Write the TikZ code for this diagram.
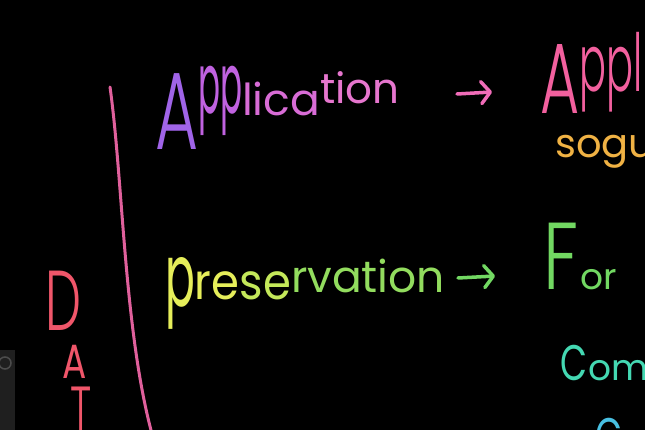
\documentclass[tikz,border=0pt]{standalone}
\usepackage{fontspec}
\setmainfont{Poppins}
\newfontfamily\thinpen{Poppins}[UprightFont=* Light]
\usetikzlibrary{arrows.meta}

\definecolor{inkpurple}{HTML}{A064E8}
\definecolor{inkviolet}{HTML}{C062E0}
\definecolor{inkmagenta}{HTML}{D86CD6}
\definecolor{inkpink}{HTML}{E676CE}
\definecolor{inkrose}{HTML}{F2609E}
\definecolor{inkarrow}{HTML}{F06CB8}
\definecolor{inkorange}{HTML}{F0B244}
\definecolor{inkyellow}{HTML}{E6EE5A}
\definecolor{inklime}{HTML}{C4E85A}
\definecolor{inkgreen}{HTML}{92DC5E}
\definecolor{inkleaf}{HTML}{72D862}
\definecolor{inkteal}{HTML}{44D8B2}
\definecolor{inkcyan}{HTML}{48C0E2}
\definecolor{inkcoral}{HTML}{F0566A}
\definecolor{inkline}{HTML}{E0609C}

\newcommand{\fsz}[1]{\fontsize{#1}{#1}\selectfont}
\newcommand{\sx}[2]{\scalebox{#1}[1]{#2}}

\tikzset{
  ink/.style={inner sep=0pt, anchor=base west},
  pen/.style={line width=3pt, line cap=round, line join=round},
  penarrow/.style={pen, line width=3.5pt, -{Straight Barb[length=9pt,width=22pt,line width=3.5pt,round]}},
}

\begin{document}
\begin{tikzpicture}[x=1pt,y=-1pt]
\fill[black] (0,0) rectangle (645,430);
\clip (0,0) rectangle (645,430);

% left margin
\draw[pen, inkline] (110,87) .. controls (123,180) and (124,330) .. (152,434);
\node[ink, text=inkcoral] (letterd) at (45,330) {\thinpen\sx{0.6}{\fsz{85}D}};
\node[ink, text=inkcoral] (lettera) at (62,378) {\sx{0.75}{\fsz{48}A}};
\node[ink, text=inkcoral] (lettert) at (70,434) {\thinpen\sx{0.6}{\fsz{68}T}};

% first row
\node[ink] (app) at (155,150) {{\color{inkpurple}\thinpen\sx{0.6}{\fsz{110}A}}\raisebox{36pt}{\color{inkviolet}\scalebox{0.65}[1.7]{\fsz{50}pp}}\raisebox{34pt}{\color{inkmagenta}\fsz{44}lica}\raisebox{46pt}{\color{inkpink}\fsz{42}tion}};
\node[ink, text=inkrose] (appl) at (540,114) {\thinpen\sx{0.6}{\fsz{100}A}\raisebox{22pt}{\scalebox{0.8}[1.6]{\fsz{50}ppl}}};
\node[ink, text=inkorange] (sogu) at (555,158) {\fsz{40}sogu};
\coordinate (arrowa) at (457,94);
\coordinate (arrowb) at (492,92);
\draw[penarrow, inkarrow] (arrowa) -- (arrowb);

% second row
\node[ink] (pres) at (165,300) {{\color{inkyellow}\raisebox{-6pt}{\scalebox{0.8}[1.6]{\fsz{55}p}}\sx{0.9}{\fsz{50}re}}{\color{inklime}\sx{0.9}{\fsz{50}se}}\raisebox{8pt}{\color{inkgreen}\fsz{44}rvation}};
\node[ink] (form) at (543,290) {\color{inkleaf}\thinpen\sx{0.75}{\fsz{95}F}\,{\fontspec{Poppins}\fsz{36}or}};
\coordinate (arrowc) at (458,278);
\coordinate (arrowd) at (495,276);
\draw[penarrow, inkleaf] (arrowc) -- (arrowd);

% third row
\node[ink, text=inkteal] (comp) at (560,380) {\sx{0.7}{\fsz{50}C}\,{\fsz{36}om}};
\node[ink, text=inkcyan] (cont) at (595,453) {\sx{0.7}{\fsz{50}C}};

% player corner
\fill[black!88] (0,350) rectangle (15,430);
\draw[black!70, line width=1.5pt] (5,363) circle (6);
\end{tikzpicture}
\end{document}
